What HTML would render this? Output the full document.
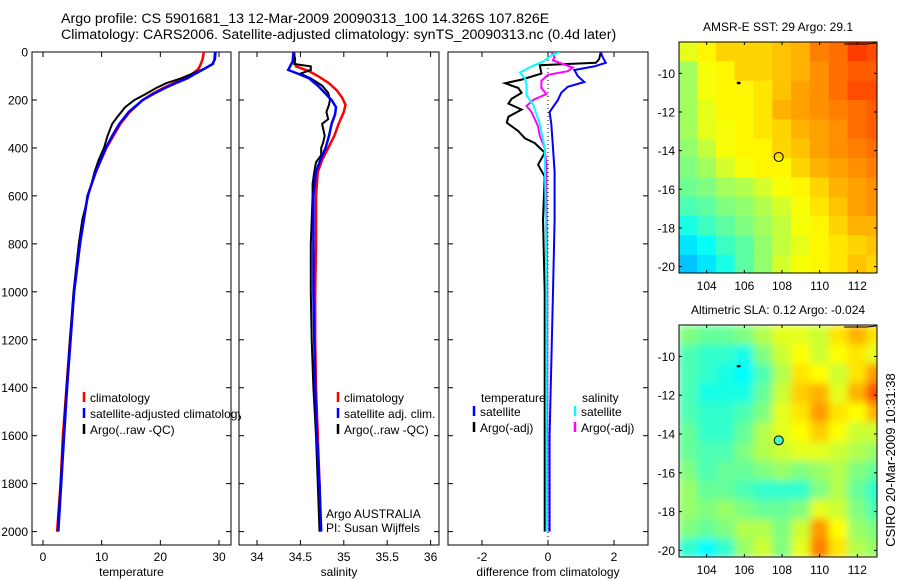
<!DOCTYPE html>
<html><head><meta charset="utf-8">
<style>
html,body{margin:0;padding:0;background:#fff;}
svg{display:block;font-family:"Liberation Sans",sans-serif;}
text{fill:#000;}
</style></head>
<body>
<svg id="fig" width="900" height="580" viewBox="0 0 900 580" xmlns="http://www.w3.org/2000/svg">
<defs>
<clipPath id="c1"><rect x="32" y="52" width="199" height="493"/></clipPath>
<clipPath id="c2"><rect x="239" y="52" width="200" height="493"/></clipPath>
<clipPath id="c3"><rect x="448" y="52" width="200" height="493"/></clipPath>
<clipPath id="cm1"><rect x="679" y="42" width="198" height="231"/></clipPath>
<clipPath id="cm2"><rect x="679" y="325" width="198" height="232"/></clipPath>
<clipPath id="cleg"><rect x="32" y="380" width="209" height="60"/></clipPath>
<filter id="blur" x="-0.1" y="-0.1" width="1.2" height="1.2"><feGaussianBlur stdDeviation="4" edgeMode="duplicate"/></filter>
</defs>
<text x="61" y="23" font-size="14.2">Argo profile: CS 5901681_13 12-Mar-2009 20090313_100 14.326S 107.826E</text>
<text x="61" y="39" font-size="14.2">Climatology: CARS2006. Satellite-adjusted climatology: synTS_20090313.nc (0.4d later)</text>
<g id="p1"></g>
<g id="p2"></g>
<g id="p3"></g>
<g id="m1"></g>
<g id="m2"></g>
<text x="0" y="0" font-size="13" transform="translate(895,460) rotate(-90)" text-anchor="middle">CSIRO 20-Mar-2009 10:31:38</text>
</svg>
<script>
const NS="http://www.w3.org/2000/svg";
// ---- temperature profiles ----
const tClimDepth=[0,30,50,70,90,110,130,150,175,200,250,300,350,400,500,600,800,1000,1200,1400,1600,1800,2000];
const tClimVal=[27.4,27.2,26.9,26.5,25.5,24.2,22.3,20.5,18.6,17.0,14.8,13.2,12.0,10.8,9.0,7.6,6.3,5.3,4.6,4.0,3.4,3.0,2.4];
const tSatDepth=[0,30,50,70,90,110,130,150,175,200,250,300,350,400,500,600,800,1000,1200,1400,1600,1800,2000];
const tSatVal=[29.4,29.3,28.9,27.5,26.0,24.6,22.6,20.8,18.8,17.0,14.6,13.0,11.8,10.7,9.0,7.6,6.3,5.3,4.7,4.1,3.6,3.1,2.6];
const tArgoDepth=[0,30,50,70,90,110,130,150,175,200,230,270,300,350,400,450,500,600,700,800,1000,1200,1400,1600,1800,1950,2000];
const tArgoVal=[29.3,29.2,29.0,27.5,25.5,23.5,21,19.3,17.5,15.6,14,12.7,11.8,11.0,10.4,9.5,8.8,7.7,6.7,6.1,5.2,4.6,4.0,3.5,3.0,2.6,2.5];
// ---- salinity profiles ----
const sClimDepth=[0,40,60,80,100,130,160,190,220,250,300,350,400,450,500,600,800,1000,1200,1400,1600,1800,2000];
const sClimVal=[34.43,34.43,34.45,34.60,34.70,34.83,34.92,34.98,35.02,35.00,34.94,34.89,34.82,34.75,34.70,34.68,34.68,34.67,34.67,34.68,34.70,34.72,34.73];
const sSatDepth=[0,40,60,75,90,110,140,170,200,230,260,300,350,400,450,500,600,800,1000,1200,1400,1600,1800,2000];
const sSatVal=[34.42,34.41,34.38,34.36,34.47,34.60,34.70,34.78,34.86,34.91,34.90,34.86,34.83,34.79,34.73,34.68,34.65,34.65,34.65,34.66,34.67,34.69,34.72,34.74];
const sArgoDepth=[0,30,50,60,75,90,110,140,170,200,220,250,280,300,350,380,400,430,460,500,550,600,800,1000,1200,1400,1600,1800,2000];
const sArgoVal=[34.42,34.44,34.43,34.62,34.62,34.5,34.62,34.75,34.82,34.84,34.83,34.80,34.82,34.75,34.78,34.76,34.74,34.74,34.68,34.66,34.64,34.64,34.62,34.62,34.63,34.65,34.68,34.70,34.72];
// ---- differences from climatology ----
const dTSatDepth=[0,20,45,60,75,100,125,145,170,200,250,300,400,500,700,1000,1300,1600,2000];
const dTSatVal=[1.6,1.65,1.75,1.4,0.8,0.9,1.1,0.6,0.4,0.3,0.05,0.1,0.15,0.2,0.2,0.15,0.1,0.05,0.05];
const dTArgoDepth=[0,30,45,50,55,90,115,130,150,170,195,215,240,270,295,330,360,380,420,470,520,700,1000,1500,2000];
const dTArgoVal=[1.6,1.55,1.45,0.6,-0.25,-0.2,-0.8,-1.3,-0.9,-0.8,-1.1,-1.2,-0.8,-1.2,-1.25,-0.9,-0.7,-0.4,-0.1,-0.3,-0.1,-0.15,-0.1,-0.1,-0.1];
const dSSatDepth=[0,15,40,60,85,110,140,180,220,260,300,400,600,1000,1500,2000];
const dSSatVal=[0.35,0.1,-0.15,-0.5,-0.85,-0.7,-0.65,-0.65,-0.45,-0.35,-0.25,-0.1,-0.08,-0.05,-0.05,-0.03];
const dSArgoDepth=[0,20,35,50,65,80,95,120,150,175,200,225,250,280,310,350,400,470,600,1000,2000];
const dSArgoVal=[0.1,0.2,0.15,0.45,0.75,0.6,0.0,-0.2,-0.2,-0.05,-0.45,-0.65,-0.5,-0.4,-0.3,-0.25,-0.1,-0.05,-0.05,-0.02,-0.02];
// ---- ticks ----
const depthTicks=[0,200,400,600,800,1000,1200,1400,1600,1800,2000];
const tempTicks=[0,10,20,30];
const salTicks=[34,34.5,35,35.5,36];
const salTickLabels=["34","34.5","35","35.5","36"];
const diffTicks=[-2,0,2];
const lonTicks=[104,106,108,110,112];
const latTicks=[-10,-12,-14,-16,-18,-20];
// ---- maps (1 degree cells) ----
const mapLons=[103,104,105,106,107,108,109,110,111,112,113];
const mapLats=[-8.9,-9.9,-10.9,-11.9,-12.9,-13.9,-14.9,-15.9,-16.9,-17.9,-18.9,-19.9];
const sstGrid=[
[28.8,28.9,29.0,29.0,29.0,29.05,29.1,29.25,29.3,29.45,29.4],
[28.6,28.85,28.9,29.0,29.0,29.05,29.1,29.2,29.3,29.35,29.35],
[28.6,28.85,28.9,28.9,28.95,29.05,29.15,29.2,29.3,29.4,29.4],
[28.6,28.8,28.9,28.9,28.95,29.1,29.15,29.2,29.25,29.3,29.35],
[28.6,28.8,28.85,28.9,28.95,29.0,29.1,29.15,29.2,29.3,29.35],
[28.55,28.7,28.85,28.9,28.9,29.0,29.05,29.15,29.2,29.25,29.3],
[28.5,28.6,28.75,28.85,28.9,28.9,29.0,29.1,29.15,29.2,29.25],
[28.45,28.5,28.6,28.65,28.75,28.85,28.9,29.0,29.1,29.15,29.2],
[28.35,28.4,28.5,28.55,28.65,28.75,28.85,28.95,29.05,29.15,29.2],
[28.2,28.3,28.4,28.5,28.6,28.7,28.85,28.9,29.0,29.1,29.1],
[28.05,28.15,28.3,28.4,28.55,28.7,28.8,28.9,28.95,29.0,29.05],
[27.95,28.05,28.2,28.4,28.55,28.75,28.85,28.9,28.95,29.05,29.0]];
const slaGrid=[
[0.0,-0.01,-0.01,0.0,0.02,0.04,0.04,0.03,0.06,0.08,0.06],
[-0.02,-0.03,-0.03,-0.04,0.0,0.03,0.05,0.03,0.05,0.06,0.04],
[-0.02,-0.03,-0.04,-0.05,-0.02,0.02,0.06,0.05,0.03,0.06,0.09],
[-0.02,-0.04,-0.04,-0.04,-0.01,0.03,0.07,0.08,0.04,0.08,0.12],
[-0.02,-0.03,-0.03,-0.02,0.0,0.04,0.06,0.09,0.06,0.05,0.08],
[-0.01,-0.03,-0.03,-0.01,0.02,0.04,0.05,0.07,0.05,0.03,0.03],
[-0.01,-0.02,-0.02,0.0,0.02,0.03,0.04,0.04,0.03,0.02,0.01],
[0.0,-0.02,-0.01,-0.01,0.0,0.01,0.0,0.01,0.02,0.0,-0.01],
[0.01,-0.01,-0.01,-0.02,-0.03,-0.03,-0.03,0.0,0.02,-0.01,-0.03],
[0.01,0.0,0.01,0.0,-0.01,-0.01,0.0,0.04,0.03,0.0,-0.02],
[0.0,-0.01,0.0,0.02,0.02,0.0,0.03,0.09,0.05,0.01,0.0],
[-0.03,-0.05,-0.03,0.01,0.03,0.0,0.04,0.10,0.06,0.02,0.01]];
const argoLon=107.826, argoLat=-14.326;
const argoSLA=-0.024;

function el(tag,attrs,parent){const e=document.createElementNS(NS,tag);for(const k in attrs)e.setAttribute(k,attrs[k]);parent.appendChild(e);return e;}
const yD=d=>52+d*0.2398;
const xT=v=>43+v*5.867;
const xS=v=>257+(v-34)*86.8;
const xDf=v=>548+v*33;

function line(parent,xs,ds,xf,color,w,name,clip){
  const pts=xs.map((v,i)=>xf(v).toFixed(1)+","+yD(ds[i]).toFixed(1)).join(" ");
  const p=el("polyline",{points:pts,fill:"none",stroke:color,"stroke-width":w,"clip-path":"url(#"+clip+")"},parent);
  
  
}
function frame(parent,x0,x1,ticks,labels,xf,xlabel,showDepth,name){
  const r=el("rect",{x:x0,y:52,width:x1-x0,height:493,fill:"#fff",stroke:"#000","stroke-width":1},parent);
  
  
  ticks.forEach((t,i)=>{
    const x=xf(t);
    el("line",{x1:x,y1:545,x2:x,y2:540,stroke:"#000"},parent);
    el("line",{x1:x,y1:52,x2:x,y2:57,stroke:"#000"},parent);
    const tx=el("text",{x:x,y:561,"font-size":12,"text-anchor":"middle"},parent);
    tx.textContent=labels[i];
    
    
  });
  depthTicks.forEach(d=>{
    const y=yD(d);
    el("line",{x1:x0,y1:y,x2:x0+5,y2:y,stroke:"#000"},parent);
    el("line",{x1:x1,y1:y,x2:x1-5,y2:y,stroke:"#000"},parent);
    if(showDepth){
      const tx=el("text",{x:28,y:y+4.5,"font-size":12,"text-anchor":"end"},parent);
      tx.textContent=String(d);
      
      
    }
  });
  const xl=el("text",{x:(x0+x1)/2,y:576,"font-size":12,"text-anchor":"middle"},parent);
  xl.textContent=xlabel;
  
  
}
function legendRow(parent,x,y,color,label,clip){
  const g=el("g",clip?{"clip-path":"url(#"+clip+")"}:{},parent);
  
  
  el("line",{x1:x,y1:y-10,x2:x,y2:y,stroke:color,"stroke-width":2.5},g);
  const t=el("text",{x:x+6,y:y,"font-size":12},g);
  t.textContent=label;
}
function txt(parent,x,y,s,name,anchor){
  const t=el("text",{x:x,y:y,"font-size":12,"text-anchor":anchor||"start"},parent);
  t.textContent=s;
  
  
}

// Panel 1
const p1=document.getElementById("p1");
frame(p1,32,231,tempTicks,tempTicks.map(String),xT,"temperature",true,"temperature");
line(p1,tClimVal,tClimDepth,xT,"#f00",2.5,"temp-climatology-line","c1");
line(p1,tArgoVal,tArgoDepth,xT,"#000",2,"temp-argo-line","c1");
line(p1,tSatVal,tSatDepth,xT,"#00f",2.5,"temp-satellite-line","c1");
// Panel 2
const p2=document.getElementById("p2");
frame(p2,239,439,salTicks,salTickLabels,xS,"salinity",false,"salinity");
line(p2,sClimVal,sClimDepth,xS,"#f00",2.5,"sal-climatology-line","c2");
line(p2,sArgoVal,sArgoDepth,xS,"#000",2,"sal-argo-line","c2");
line(p2,sSatVal,sSatDepth,xS,"#00f",2.5,"sal-satellite-line","c2");
legendRow(p2,84,402,"#f00","climatology","cleg");
legendRow(p2,84,418,"#00f","satellite-adjusted climatology","cleg");
legendRow(p2,84,434,"#000","Argo(..raw -QC)","cleg");
legendRow(p2,338,402,"#f00","climatology");
legendRow(p2,338,418,"#00f","satellite adj. clim.");
legendRow(p2,338,434,"#000","Argo(..raw -QC)");
txt(p2,326,518,"Argo AUSTRALIA","argo-australia-label");
txt(p2,326,532,"PI: Susan Wijffels","pi-label");
// Panel 3
const p3=document.getElementById("p3");
frame(p3,448,648,diffTicks,diffTicks.map(String),xDf,"difference from climatology",false,"difference");
const zl=el("line",{x1:xDf(0),y1:52,x2:xDf(0),y2:545,stroke:"#000","stroke-dasharray":"1,3"},p3);


line(p3,dTArgoVal,dTArgoDepth,xDf,"#000",2,"diff-temp-argo-line","c3");
line(p3,dTSatVal,dTSatDepth,xDf,"#00f",2,"diff-temp-satellite-line","c3");
line(p3,dSArgoVal,dSArgoDepth,xDf,"#f0f",2,"diff-sal-argo-line","c3");
line(p3,dSSatVal,dSSatDepth,xDf,"#0ff",2,"diff-sal-satellite-line","c3");
txt(p3,481,402,"temperature","legend-temperature-header");
legendRow(p3,474,416,"#00f","satellite");
legendRow(p3,474,432,"#000","Argo(-adj)");
txt(p3,582,402,"salinity","legend-salinity-header");
legendRow(p3,575,416,"#0ff","satellite");
legendRow(p3,575,432,"#f0f","Argo(-adj)");

// Maps
function jet(t){t=Math.max(0,Math.min(1,t));
  const r=Math.max(0,Math.min(1,1.5-Math.abs(4*t-3)));
  const g=Math.max(0,Math.min(1,1.5-Math.abs(4*t-2)));
  const b=Math.max(0,Math.min(1,1.5-Math.abs(4*t-1)));
  return "rgb("+Math.round(r*255)+","+Math.round(g*255)+","+Math.round(b*255)+")";}
function drawMap(gid,top,bot,latTop,latBot,grid,cmin,cmax,title,clip,name,smooth,argoVal){
  const g=document.getElementById(gid);
  const L=679,R=877;
  const xL=lon=>L+(lon-102.53)*18.83;
  const yL=lat=>top+(latTop-lat)*(bot-top)/(latTop-latBot);
  const cells=el("g",{"clip-path":"url(#"+clip+")"},g);
  const inner=el("g",smooth?{filter:"url(#blur)"}:{},cells);
  grid.forEach((row,i)=>row.forEach((v,j)=>{
    const x0=xL(mapLons[j]-0.5),x1=xL(mapLons[j]+0.5);
    const y0=yL(mapLats[i]+0.5),y1=yL(mapLats[i]-0.5);
    const r=el("rect",{x:x0-0.3,y:y0-0.3,width:x1-x0+0.6,height:y1-y0+0.6,fill:jet((v-cmin)/(cmax-cmin))},inner);
    
    
  }));
  el("polyline",{points:(xL(111.3))+","+(top+2)+" "+xL(112.5)+","+(top+2)+" "+xL(113)+","+(top+1),fill:"none",stroke:"#000","stroke-width":1},cells);
  const isl=el("ellipse",{cx:xL(105.7),cy:yL(-10.5),rx:2,ry:1.3,fill:"#000"},cells);
  
  
  const fill=(argoVal===null)?"none":jet((argoVal-cmin)/(cmax-cmin));
  const c=el("circle",{cx:xL(argoLon),cy:yL(argoLat),r:4.5,fill:fill,stroke:"#000","stroke-width":1},g);
  
  
  el("rect",{x:L,y:top,width:R-L,height:bot-top,fill:"none",stroke:"#000"},g);
  lonTicks.forEach(lon=>{const x=xL(lon);
    el("line",{x1:x,y1:top,x2:x,y2:top+3,stroke:"#000"},g);
    el("line",{x1:x,y1:bot,x2:x,y2:bot-3,stroke:"#000"},g);
    txt(g,x,bot+17,String(lon),name+'-lon-tick-label',"middle");});
  latTicks.forEach(lat=>{const y=yL(lat);
    el("line",{x1:L,y1:y,x2:L+3,y2:y,stroke:"#000"},g);
    el("line",{x1:R,y1:y,x2:R-3,y2:y,stroke:"#000"},g);
    txt(g,L-4,y+4.5,String(lat),name+'-lat-tick-label',"end");});
  txt(g,778,top-11,title,name+'-title',"middle");
}
drawMap("m1",42,273,-8.38,-20.33,sstGrid,27,30,"AMSR-E SST: 29 Argo: 29.1","cm1","sst-map",false,null);
drawMap("m2",325,557,-8.38,-20.34,slaGrid,-0.2,0.2,"Altimetric SLA: 0.12 Argo: -0.024","cm2","sla-map",true,argoSLA);
</script>
</body></html>
